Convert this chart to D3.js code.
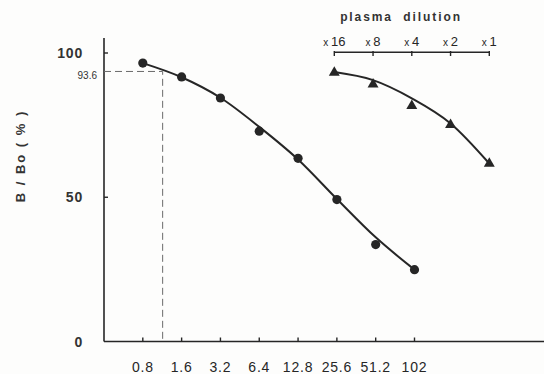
<!DOCTYPE html>
<html>
<head>
<meta charset="utf-8">
<script src="https://cdn.jsdelivr.net/npm/d3@7"></script>
<style>
  body { margin: 0; background: #fdfdfc; }
  svg { display: block; font-family: "Liberation Sans", Arial, sans-serif; }
</style>
</head>
<body>
<div id="chart"></div>
<script>
// standard curve (melatonin amount) and plasma dilution series
const doses = [0.8, 1.6, 3.2, 6.4, 12.8, 25.6, 51.2, 102.4];
const doseLabels = ["0.8", "1.6", "3.2", "6.4", "12.8", "25.6", "51.2", "102"];
const stdValues = [96.5, 91.7, 84.4, 72.9, 63.5, 49.2, 33.6, 24.9];
const stdFit = [96.5, 91.6, 84.5, 74.4, 63.1, 49.4, 36.1, 24.9];

const dilutions = [16, 8, 4, 2, 1];
const dilutionLabels = ["16", "8", "4", "2", "1"];
const plasmaValues = [93.2, 89.1, 81.7, 75.1, 61.7];
const plasmaFit = [93.4, 90.6, 84.3, 75.6, 61.7];

const yTicks = [0, 50, 100];
const marker = { value: 93.6, dose: 1.14, label: "93.6" };

const width = 544;
const height = 374;
const ink = "#262626";

const svg = d3.select("#chart")
    .append("svg")
    .attr("width", width)
    .attr("height", height);

const x = d3.scaleLog().base(2)
    .domain([0.4, 102.4])
    .range([104, 414.5]);
const xTop = d3.scaleLog().base(2)
    .domain([16, 1])
    .range([334.3, 489.3]);
const y = d3.scaleLinear()
    .domain([0, 100])
    .range([341.5, 53]);

// axes lines
svg.append("line")
    .attr("x1", x(0.4)).attr("x2", width)
    .attr("y1", y(0)).attr("y2", y(0))
    .attr("stroke", ink).attr("stroke-width", 1.6);
svg.append("line")
    .attr("x1", x(0.4)).attr("x2", x(0.4))
    .attr("y1", y(0)).attr("y2", 38)
    .attr("stroke", ink).attr("stroke-width", 1.6);

// bottom ticks (inward) + labels
svg.selectAll(".xtick")
    .data(doses)
    .join("line")
    .attr("x1", d => x(d)).attr("x2", d => x(d))
    .attr("y1", y(0)).attr("y2", y(0) - 4)
    .attr("stroke", ink).attr("stroke-width", 1.4);
svg.selectAll(".xlab")
    .data(doses)
    .join("text")
    .attr("x", d => x(d))
    .attr("y", 371.5)
    .attr("text-anchor", "middle")
    .attr("font-size", 14)
    .attr("letter-spacing", 0.8)
    .attr("fill", ink)
    .text((d, i) => doseLabels[i]);

// left ticks + labels
svg.selectAll(".ytick")
    .data(yTicks.filter(d => d > 0))
    .join("line")
    .attr("x1", x(0.4)).attr("x2", x(0.4) + 4)
    .attr("y1", d => y(d)).attr("y2", d => y(d))
    .attr("stroke", ink).attr("stroke-width", 1.4);
svg.selectAll(".ylab")
    .data(yTicks)
    .join("text")
    .attr("x", 83)
    .attr("y", d => y(d) + 5)
    .attr("text-anchor", "end")
    .attr("font-size", 14)
    .attr("font-weight", "bold")
    .attr("letter-spacing", 0.8)
    .attr("fill", "#333")
    .text(d => d);

svg.append("text")
    .attr("transform", "translate(25,156) rotate(-90)")
    .attr("text-anchor", "middle")
    .attr("font-size", 13)
    .attr("font-weight", "bold")
    .attr("letter-spacing", 2)
    .attr("fill", "#333")
    .text("B / Bo ( % )");

// 93.6 reading
svg.append("path")
    .attr("d", `M${x(0.4)},${y(marker.value)}H${x(marker.dose)}V${y(0)}`)
    .attr("fill", "none")
    .attr("stroke", "#6a6a6a")
    .attr("stroke-width", 1)
    .attr("stroke-dasharray", "7,4");
svg.append("text")
    .attr("x", 97)
    .attr("y", y(marker.value) + 8)
    .attr("text-anchor", "end")
    .attr("font-size", 10)
    .attr("fill", "#333")
    .text(marker.label);

// top dilution axis
svg.append("line")
    .attr("x1", xTop(16)).attr("x2", xTop(1))
    .attr("y1", 52.3).attr("y2", 52.3)
    .attr("stroke", ink).attr("stroke-width", 1.5);
svg.selectAll(".ttick")
    .data(dilutions)
    .join("line")
    .attr("x1", d => xTop(d)).attr("x2", d => xTop(d))
    .attr("y1", 51).attr("y2", 56)
    .attr("stroke", ink).attr("stroke-width", 1.4);
const tlab = svg.selectAll(".tlab")
    .data(dilutions)
    .join("text")
    .attr("x", d => xTop(d))
    .attr("y", 46)
    .attr("text-anchor", "middle")
    .attr("fill", ink);
tlab.append("tspan")
    .attr("font-size", 10)
    .text("x ");
tlab.append("tspan")
    .attr("font-size", 13)
    .text((d, i) => dilutionLabels[i]);
svg.append("text")
    .attr("x", 401)
    .attr("y", 21)
    .attr("text-anchor", "middle")
    .attr("font-size", 12)
    .attr("font-weight", "bold")
    .attr("letter-spacing", 1.9)
    .attr("fill", "#333")
    .attr("xml:space", "preserve")
    .text("plasma  dilution");

// fitted curves
const stdLine = d3.line()
    .x((d, i) => x(doses[i]))
    .y(d => y(d))
    .curve(d3.curveMonotoneX);
svg.append("path")
    .datum(stdFit)
    .attr("d", stdLine)
    .attr("fill", "none")
    .attr("stroke", ink)
    .attr("stroke-width", 2);

const plasmaLine = d3.line()
    .x((d, i) => xTop(dilutions[i]))
    .y(d => y(d))
    .curve(d3.curveMonotoneX);
svg.append("path")
    .datum(plasmaFit)
    .attr("d", plasmaLine)
    .attr("fill", "none")
    .attr("stroke", ink)
    .attr("stroke-width", 2);

// markers
svg.selectAll(".dot")
    .data(stdValues)
    .join("circle")
    .attr("cx", (d, i) => x(doses[i]))
    .attr("cy", d => y(d))
    .attr("r", 4.6)
    .attr("fill", ink);

const tri = d3.symbol().type(d3.symbolTriangle).size(52);
svg.selectAll(".tri")
    .data(plasmaValues)
    .join("path")
    .attr("d", tri)
    .attr("transform", (d, i) => `translate(${xTop(dilutions[i])},${y(d)})`)
    .attr("fill", ink);
</script>
</body>
</html>
